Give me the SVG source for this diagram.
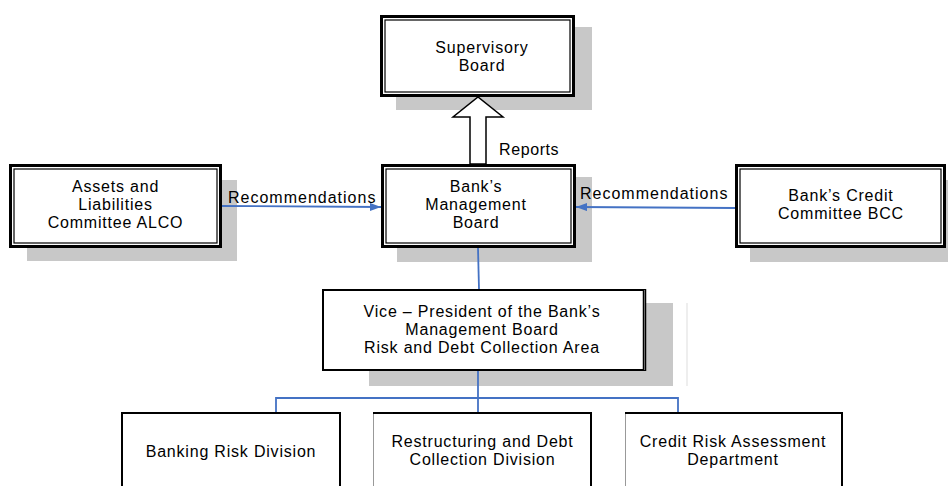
<svg xmlns="http://www.w3.org/2000/svg" width="948" height="486" viewBox="0 0 948 486">
<defs>
<style>
text{font-family:"Liberation Sans",Arial,sans-serif;fill:#000;text-anchor:middle}
.t{font-size:16px;letter-spacing:0.8px}
.lbl{font-size:16px;letter-spacing:1px;text-anchor:start}
.shadow{fill:#c8c8c8}
.outer{fill:#fff;stroke:#000;stroke-width:3}
.inner{fill:none;stroke:#000;stroke-width:1.2}
.blue{fill:none;stroke:#4472c4;stroke-width:1.8}
.box{fill:#fff;stroke:none}
.edge{fill:none;stroke:#000;stroke-width:2}
.thin{fill:none;stroke:#999;stroke-width:1}
</style>
<marker id="ah" markerUnits="userSpaceOnUse" markerWidth="12" markerHeight="8" refX="11" refY="4" orient="auto">
<path d="M0,0 L11,4 L0,8 z" fill="#4472c4"/>
</marker>
</defs>
<rect width="948" height="486" fill="#fff"/>

<g id="supervisory-board">
<rect class="shadow" x="396" y="27" width="196" height="83"/>
<rect class="outer" x="381.5" y="16.5" width="192" height="79"/>
<rect class="inner" x="385" y="20" width="185" height="72"/>
<text class="t" x="482" y="52.5">Supervisory</text>
<text class="t" x="482" y="70.5">Board</text>
</g>

<g id="management-board">
<rect class="shadow" x="397" y="177" width="195" height="85"/>
<rect class="outer" x="382.5" y="165.5" width="192" height="81"/>
<rect class="inner" x="386" y="169" width="185" height="74"/>
<text class="t" x="476" y="191.5">Bank’s</text>
<text class="t" x="476" y="209.5">Management</text>
<text class="t" x="476" y="227.5">Board</text>
</g>

<g id="alco">
<rect class="shadow" x="27" y="180" width="210" height="81"/>
<rect class="outer" x="10.5" y="165.5" width="210" height="81"/>
<rect class="inner" x="14" y="169" width="203" height="74"/>
<text class="t" x="115.5" y="192">Assets and</text>
<text class="t" x="115.5" y="210">Liabilities</text>
<text class="t" x="115.5" y="228">Committee ALCO</text>
</g>

<g id="bcc">
<rect class="shadow" x="750" y="180" width="200" height="82"/>
<rect class="outer" x="736.5" y="165.5" width="208" height="81"/>
<rect class="inner" x="740" y="169" width="201" height="74"/>
<text class="t" x="841" y="201">Bank’s Credit</text>
<text class="t" x="841" y="219">Committee BCC</text>
</g>

<g id="vice-president">
<rect class="shadow" x="369" y="303" width="304" height="83"/>
<line x1="687" y1="303" x2="687" y2="386" stroke="#ddd" stroke-width="1"/>
<rect x="323" y="290" width="321" height="80" fill="#fff" stroke="#000" stroke-width="2"/>
<line x1="644.5" y1="289" x2="644.5" y2="371" stroke="#000" stroke-width="3.5"/>
<line x1="644.5" y1="290" x2="644.5" y2="370" stroke="#888" stroke-width="0.8"/>
<text class="t" x="482" y="316.5">Vice – President of the Bank’s</text>
<text class="t" x="482" y="334.5">Management Board</text>
<text class="t" x="482" y="352.5">Risk and Debt Collection Area</text>
</g>

<g id="banking-risk-division">
<rect class="box" x="122" y="413" width="218" height="80"/>
<path class="edge" d="M122,490 V413 H340 V490"/>
<text class="t" x="231" y="457">Banking Risk Division</text>
</g>

<g id="restructuring-division">
<rect class="box" x="373" y="413" width="218" height="80"/>
<path class="thin" d="M373.5,490 V413"/>
<path class="edge" d="M373,413 H591 V490"/>
<text class="t" x="482.5" y="446.5">Restructuring and Debt</text>
<text class="t" x="482.5" y="464.5">Collection Division</text>
</g>

<g id="credit-risk-department">
<rect class="box" x="625" y="413" width="217" height="80"/>
<path class="thin" d="M625.5,490 V413"/>
<path class="edge" d="M625,413 H842 V490"/>
<text class="t" x="733" y="446.5">Credit Risk Assessment</text>
<text class="t" x="733" y="464.5">Department</text>
</g>

<g id="connectors">
<polygon points="470,164 470,117 453,117 478,97 503,117 486,117 486,164" fill="#fff" stroke="#000" stroke-width="1.5" stroke-linejoin="miter"/>
<text class="lbl" x="499" y="155" style="letter-spacing:0.6px">Reports</text>
<line class="blue" x1="222" y1="206" x2="381" y2="207" marker-end="url(#ah)"/>
<text class="lbl" x="228" y="203">Recommendations</text>
<line class="blue" x1="735" y1="208" x2="576" y2="207" marker-end="url(#ah)"/>
<text class="lbl" x="580" y="199">Recommendations</text>
<line class="blue" x1="478" y1="248" x2="479" y2="289"/>
<line class="blue" x1="478" y1="371" x2="478" y2="412"/>
<polyline class="blue" points="276,412 276,398 678,398 678,412"/>
</g>
</svg>
